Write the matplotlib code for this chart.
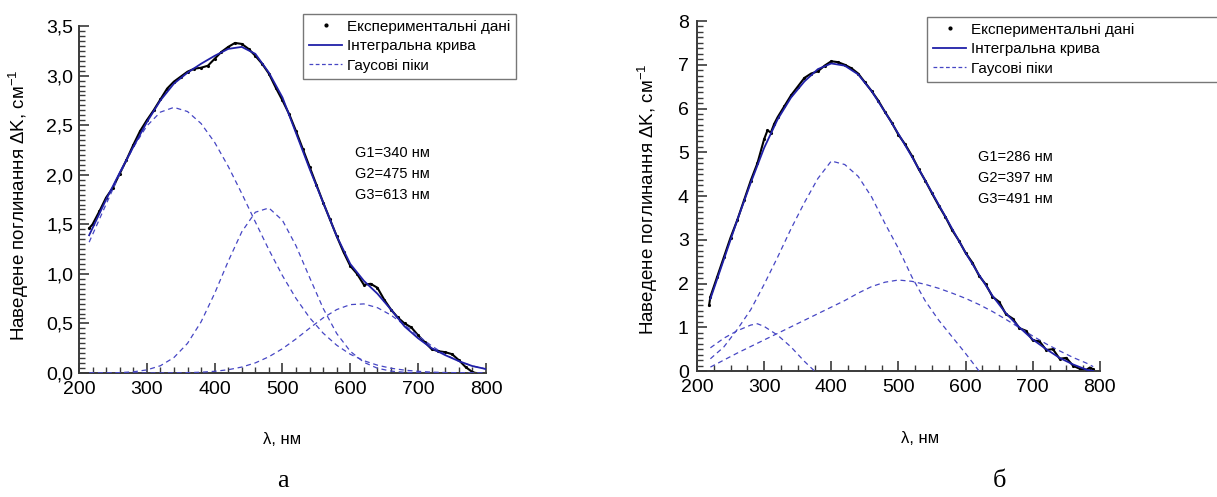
import matplotlib
matplotlib.use('Agg')
import numpy as np
from matplotlib import pyplot as plt
from matplotlib.lines import Line2D
from matplotlib.ticker import MultipleLocator, FuncFormatter

plt.rcParams['font.family'] = ['Liberation Sans', 'DejaVu Sans']

# --- panel a ---
a_wl = [215, 240, 260, 280, 300, 320, 340, 360, 380, 400, 420, 440, 460, 480, 500,
        520, 540, 560, 580, 600, 620, 640, 660, 680, 700, 720, 740, 760, 780, 800]
a_total = [1.39, 1.75, 2.02, 2.28, 2.53, 2.75, 2.92, 3.03, 3.12, 3.20, 3.27, 3.29, 3.22, 3.03, 2.78,
           2.42, 2.06, 1.72, 1.38, 1.10, 0.93, 0.80, 0.64, 0.47, 0.35, 0.25, 0.18, 0.12, 0.07, 0.04]
a_g1 = [1.32, 1.703, 2.005, 2.276, 2.492, 2.632, 2.680, 2.638, 2.517, 2.327, 2.085, 1.811, 1.524, 1.243, 0.982,
        0.752, 0.558, 0.402, 0.280, 0.189, 0.124, 0.079, 0.048, 0.029, 0.017, 0.009, 0.005, 0.003, 0.001, 0.001]
a_g2 = [0.000, 0.001, 0.004, 0.012, 0.031, 0.073, 0.156, 0.299, 0.516, 0.803, 1.127, 1.424, 1.622, 1.665, 1.540,
        1.283, 0.964, 0.652, 0.398, 0.219, 0.108, 0.048, 0.019, 0.007, 0.002, 0.001, 0.0, 0.0, 0.0, 0.0]
a_g3 = [0.0, 0.0, 0.0, 0.0, 0.0, 0.001, 0.002, 0.004, 0.008, 0.017, 0.033, 0.060, 0.102, 0.164, 0.245,
        0.344, 0.452, 0.556, 0.640, 0.690, 0.697, 0.659, 0.584, 0.484, 0.376, 0.273, 0.186, 0.119, 0.071, 0.040]

a_exp_wl = [215, 220, 230, 240, 250, 260, 270, 280, 290, 300, 310, 320, 330, 340, 350, 360, 370, 380,
            390, 400, 410, 420, 430, 440, 450, 460, 470, 480, 490, 500, 510, 520, 530, 540, 550, 560,
            570, 580, 590, 600, 610, 620, 630, 640, 650, 660, 670, 680, 690, 700, 710, 720, 730, 740,
            750, 760, 770, 780, 785]
a_exp = [1.46, 1.50, 1.63, 1.77, 1.87, 2.01, 2.15, 2.30, 2.44, 2.55, 2.65, 2.76, 2.87, 2.94, 2.99, 3.04,
         3.07, 3.08, 3.10, 3.17, 3.24, 3.29, 3.33, 3.32, 3.27, 3.20, 3.12, 3.02, 2.88, 2.75, 2.61, 2.44,
         2.26, 2.08, 1.90, 1.72, 1.55, 1.38, 1.22, 1.08, 1.00, 0.89, 0.90, 0.86, 0.74, 0.64, 0.56, 0.50,
         0.46, 0.38, 0.31, 0.24, 0.22, 0.21, 0.19, 0.13, 0.06, 0.01, 0.0]
a_peaks = ['G1=340 нм', 'G2=475 нм', 'G3=613 нм']

# --- panel б ---
b_wl = [220, 240, 260, 280, 300, 320, 340, 360, 380, 400, 420, 440, 460, 480, 500,
        520, 540, 560, 580, 600, 620, 640, 660, 680, 700, 720, 740, 760, 780, 790]
b_total = [1.65, 2.55, 3.45, 4.30, 5.10, 5.75, 6.25, 6.62, 6.90, 7.03, 6.98, 6.78, 6.40, 5.92, 5.42,
           4.90, 4.35, 3.80, 3.25, 2.70, 2.20, 1.72, 1.32, 1.00, 0.72, 0.50, 0.30, 0.15, 0.03, 0.0]
b_g1_wl = [220, 240, 260, 280, 290, 300, 320, 340, 360, 375]
b_g1 = [0.53, 0.75, 0.92, 1.05, 1.08, 1.02, 0.82, 0.55, 0.22, 0.0]
b_g2_wl = [220, 240, 260, 280, 300, 320, 340, 360, 380, 400, 420, 440, 460, 480, 500,
           520, 540, 560, 580, 600, 620]
b_g2 = [0.28, 0.55, 0.95, 1.40, 1.98, 2.60, 3.25, 3.85, 4.40, 4.80, 4.72, 4.45, 3.98, 3.37, 2.80,
        2.15, 1.60, 1.16, 0.78, 0.40, 0.0]
b_g3 = [0.09, 0.25, 0.41, 0.56, 0.71, 0.86, 1.01, 1.16, 1.31, 1.46, 1.61, 1.78, 1.93, 2.03, 2.08,
        2.05, 1.98, 1.89, 1.78, 1.66, 1.52, 1.36, 1.18, 0.99, 0.80, 0.62, 0.46, 0.31, 0.18, 0.10]

b_exp_wl = [218, 220, 230, 240, 250, 260, 270, 280, 290, 300, 305, 310, 315, 320, 330, 340, 350, 360,
            370, 380, 390, 400, 410, 420, 430, 440, 450, 460, 470, 480, 490, 500, 510, 520, 530, 540,
            550, 560, 570, 580, 590, 600, 610, 620, 630, 640, 650, 660, 670, 680, 690, 700, 710, 720,
            730, 740, 750, 760, 770, 780, 785, 790]
b_exp = [1.50, 1.70, 2.15, 2.60, 3.05, 3.45, 3.90, 4.35, 4.75, 5.30, 5.50, 5.45, 5.65, 5.80, 6.05, 6.30,
         6.50, 6.70, 6.80, 6.85, 6.98, 7.08, 7.06, 7.00, 6.92, 6.80, 6.60, 6.40, 6.18, 5.92, 5.68, 5.40,
         5.18, 4.92, 4.62, 4.35, 4.06, 3.78, 3.52, 3.22, 2.98, 2.70, 2.48, 2.18, 1.98, 1.70, 1.58, 1.30,
         1.20, 0.98, 0.92, 0.70, 0.68, 0.48, 0.50, 0.28, 0.30, 0.12, 0.05, 0.03, 0.08, 0.04]
b_peaks = ['G1=286 нм', 'G2=397 нм', 'G3=491 нм']

legend_labels = ['Експериментальні дані', 'Інтегральна крива', 'Гаусові піки']
solid_c = '#2020a8'
dash_c = '#4646c4'
spine_c = '#3a3a3a'


def style_axes(ax, ymax, ymajor, yminor, xminor, comma, ypad):
    ax.set_xlim(200, 800)
    ax.set_ylim(0, ymax)
    ax.xaxis.set_major_locator(MultipleLocator(100))
    ax.xaxis.set_minor_locator(MultipleLocator(xminor))
    ax.yaxis.set_major_locator(MultipleLocator(ymajor))
    ax.yaxis.set_minor_locator(MultipleLocator(yminor))
    if comma:
        ax.yaxis.set_major_formatter(FuncFormatter(lambda v, p: f'{v:.1f}'.replace('.', ',')))
    for s in ['top', 'right']:
        ax.spines[s].set_visible(False)
    for s in ['left', 'bottom']:
        ax.spines[s].set_linewidth(1.4)
        ax.spines[s].set_color(spine_c)
    ax.tick_params(which='major', direction='in', length=7, width=1.2, labelsize=14, colors=spine_c,
                   labelcolor='black')
    ax.tick_params(which='minor', direction='in', length=4, width=1.0, colors=spine_c)
    ax.tick_params(axis='x', which='major', pad=6)
    ax.tick_params(axis='y', which='major', pad=ypad)
    ax.set_xlabel('λ, нм', fontsize=12)
    ax.set_ylabel('Наведене поглинання ΔK, см$^{\\mathregular{-1}}$', fontsize=13.5)


def draw_panel(ax, exp_wl, exp, wl, total, comps):
    ax.plot(exp_wl, exp, color='black', lw=1.5, zorder=2)
    ax.plot(exp_wl, exp, ls='none', marker='.', ms=2.5, color='black', zorder=2)
    for cwl, c in comps:
        ax.plot(cwl, c, color=dash_c, lw=0.9, ls=(0, (4, 3)), zorder=3)
    ax.plot(wl, total, color=solid_c, lw=1.3, zorder=4)


fig = plt.figure(figsize=(12.17, 4.97), dpi=100)
ax1 = fig.add_axes([0.0649, 0.2495, 0.3344, 0.698])
ax2 = fig.add_axes([0.5727, 0.2535, 0.3311, 0.7042])

draw_panel(ax1, a_exp_wl, a_exp, a_wl, a_total, [(a_wl, a_g1), (a_wl, a_g2), (a_wl, a_g3)])
style_axes(ax1, 3.5, 0.5, 0.05, 20, True, 4)
draw_panel(ax2, b_exp_wl, b_exp, b_wl, b_total, [(b_g1_wl, b_g1), (b_g2_wl, b_g2), (b_wl, b_g3)])
style_axes(ax2, 8, 1, 0.125, 25, False, 6)

ax1.yaxis.set_label_coords(-0.118, 0.484)
ax2.yaxis.set_label_coords(-0.092, 0.49)
ax1.xaxis.set_label_coords(0.5, -0.17)
ax2.xaxis.set_label_coords(0.553, -0.17)

handles = [Line2D([], [], ls='none', marker='.', ms=4, color='black'),
           Line2D([], [], color=solid_c, lw=1.3),
           Line2D([], [], color=dash_c, lw=0.9, ls=(0, (3, 2)))]
leg_kw = dict(fontsize=11, frameon=True, fancybox=False, framealpha=1, edgecolor='#777777',
              handlelength=2.2, handletextpad=0.3, borderpad=0.38, labelspacing=0.36, borderaxespad=0)
leg1 = fig.legend(handles, legend_labels, loc='upper right', bbox_to_anchor=(516 / 1217, 1 - 14 / 497),
                  **leg_kw)
leg2 = fig.legend(handles, legend_labels, loc='upper left', mode='expand',
                  bbox_to_anchor=(927 / 1217, 1 - 85 / 497, 300 / 1217, 68 / 497), **leg_kw)
for leg in (leg1, leg2):
    leg.get_frame().set_linewidth(1.0)

for i, t in enumerate(a_peaks):
    fig.text(355 / 1217, 1 - (153 + 21 * i) / 497, t, fontsize=10.5, va='center')
for i, t in enumerate(b_peaks):
    fig.text(978 / 1217, 1 - (157 + 21 * i) / 497, t, fontsize=10.5, va='center')

fig.text(283 / 1217, 1 - 481 / 497, 'а', fontsize=19, family='Liberation Serif', ha='center', va='center')
fig.text(1000 / 1217, 1 - 481 / 497, 'б', fontsize=19, family='Liberation Serif', ha='center', va='center')

fig.savefig('out.png', dpi=100)
